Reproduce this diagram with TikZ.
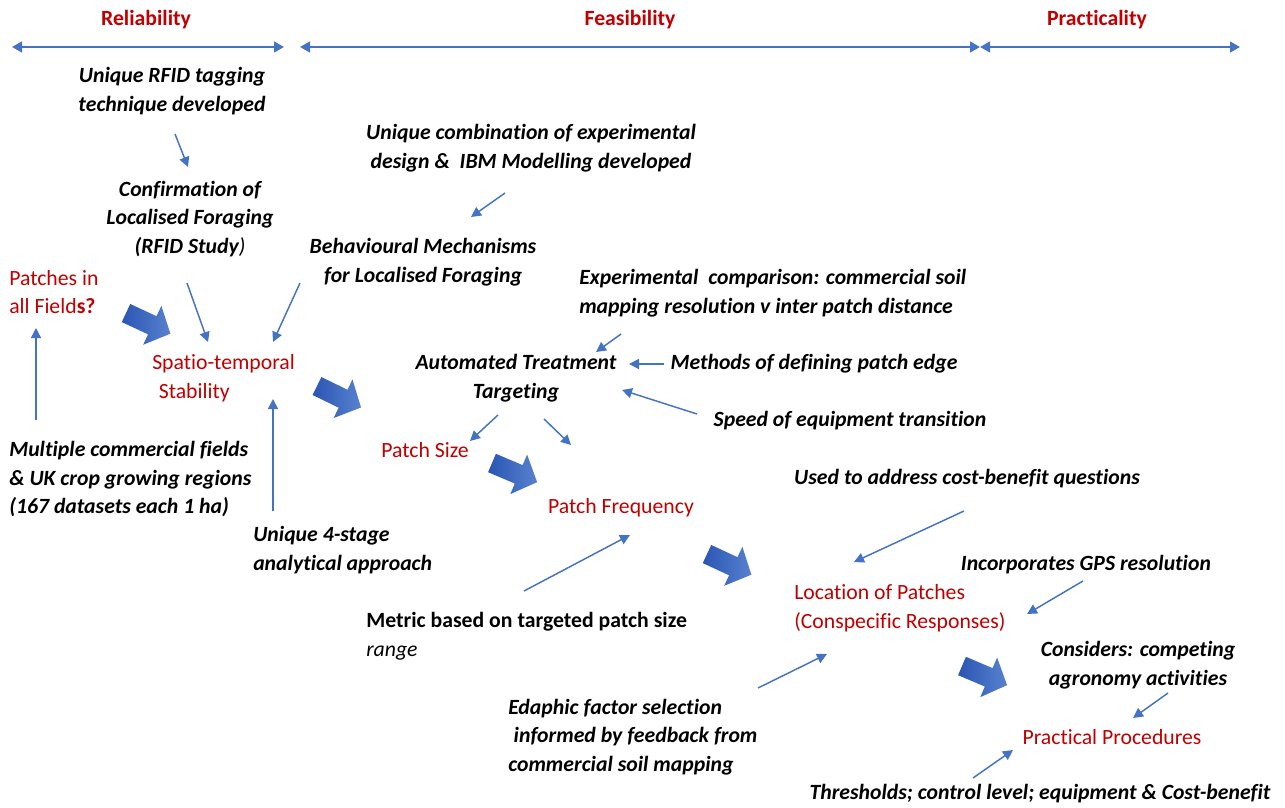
\documentclass[tikz,border=0pt]{standalone}
\usepackage{fontspec}
\setmainfont{Carlito}[Ligatures=NoCommon]
\usetikzlibrary{arrows.meta}

\definecolor{redtext}{HTML}{C00000}
\definecolor{linkblue}{HTML}{4472C4}
\definecolor{flowdark}{HTML}{2A55B4}
\definecolor{flowlight}{HTML}{5882CE}

\tikzset{
  every node/.style={inner sep=0pt, align=center, font=\fontsize{16.3}{21.5}\selectfont},
  head/.style={text=redtext, font=\fontsize{16.3}{21.5}\selectfont\bfseries},
  note/.style={font=\fontsize{16.3}{21.5}\selectfont\bfseries\itshape},
  stage/.style={text=redtext},
  link/.style={draw=linkblue, line width=1.1pt, -{Triangle[length=7.5pt,width=7.5pt]}},
  span/.style={draw=linkblue, line width=1.6pt,
    {Triangle[length=7.5pt,width=8pt]}-{Triangle[length=7.5pt,width=8pt]}},
  flow/.pic={
    \shade[left color=flowdark, right color=flowlight]
      (0,10) -- (29,10) -- (29,21.5) -- (49,0) -- (29,-21.5) -- (29,-10) -- (0,-10) -- cycle;
  }
}

\begin{document}
\begin{tikzpicture}[x=0.75pt, y=-0.75pt]
  \useasboundingbox (0,0) rectangle (1285,807);

  % headings and their spans
  \node[head] (reliability) at (146,20) {Reliability};
  \node[head] (feasibility) at (630,20) {Feasibility};
  \node[head] (practicality) at (1097,20) {Practicality};
  \coordinate (relL) at (12,47);
  \coordinate (relR) at (284,47);
  \coordinate (feaL) at (300,47);
  \coordinate (feaR) at (980,47);
  \coordinate (praL) at (980,47);
  \coordinate (praR) at (1240,47);
  \draw[span] (relL) -- (relR);
  \draw[span] (feaL) -- (feaR);
  \draw[span] (praL) -- (praR);

  % stages
  \node[stage, anchor=west, align=left] (fields) at (9,292) {Patches in\\all Field\textbf{s?}};
  \node[stage, anchor=west, align=left] (stability) at (152,378) {Spatio-temporal\\\hspace*{0.3em}Stability};
  \node[stage] (size) at (425,450) {Patch Size};
  \node[stage] (frequency) at (621,508) {Patch Frequency};
  \node[stage, anchor=west, align=left] (location) at (794,608) {Location of Patches\\(Conspecific Responses)};
  \node[stage] (procedures) at (1112,737) {Practical Procedures};

  % notes
  \node[note] (rfid) at (172,91) {Unique RFID tagging\\technique developed};
  \node[note] (confirm) at (190,219) {Confirmation of\\Localised Foraging\\(RFID Study{\mdseries )}};
  \node[note] (combo) at (531,148) {Unique combination of experimental\\design \&\ \ IBM Modelling developed};
  \node[note] (mechanism) at (423,262) {Behavioural Mechanisms\\for Localised Foraging};
  \node[note, anchor=west, align=left] (compare) at (579,293) {Experimental\ \ comparison: commercial soil\\mapping resolution v inter patch distance};
  \node[note] (targeting) at (516,378) {Automated Treatment\\Targeting};
  \node[note] (edge) at (814,364) {Methods of defining patch edge};
  \node[note] (speed) at (850,421) {Speed of equipment transition};
  \node[note] (costq) at (967,479) {Used to address cost-benefit questions};
  \node[note] (gps) at (1086,565) {Incorporates GPS resolution};
  \node[note] (competing) at (1138,665) {Considers: competing\\agronomy activities};
  \node[note] (thresholds) at (1040,794) {Thresholds; control level; equipment \& Cost-benefit};
  \node[note, anchor=west, align=left] (edaphic) at (508,737) {Edaphic factor selection\\\hspace*{0.25em}informed by feedback from\\commercial soil mapping};
  \node[anchor=west, align=left] (metric) at (366,636) {\textbf{Metric based on targeted patch size}\\\textit{range}};
  \node[note, anchor=west, align=left] (datasets) at (9,479) {Multiple commercial fields\\\& UK crop growing regions\\(167 datasets each 1 ha)};
  \node[note, anchor=west, align=left] (fourstage) at (253,550) {Unique 4-stage\\analytical approach};

  % flow between stages
  \pic[rotate=-25] (flowA) at (126,313) {flow};
  \pic[rotate=-26] (flowB) at (317,386) {flow};
  \pic[rotate=-23] (flowC) at (492,463) {flow};
  \pic[rotate=-25] (flowD) at (707,554) {flow};
  \pic[rotate=-23] (flowE) at (962,666) {flow};

  % ends of the thin links
  \coordinate (rfid-out) at (175,134);
  \coordinate (confirm-in) at (188,167);
  \coordinate (confirm-out) at (187,283);
  \coordinate (stab-in1) at (208,342);
  \coordinate (mech-out) at (300,283);
  \coordinate (stab-in2) at (273,342);
  \coordinate (combo-out) at (505,193);
  \coordinate (mech-in) at (471,217);
  \coordinate (data-out) at (36,420);
  \coordinate (fields-in) at (36,328);
  \coordinate (four-out) at (273,511);
  \coordinate (stab-in3) at (273,399);
  \coordinate (comp-out) at (621,334);
  \coordinate (targ-in1) at (596,352);
  \coordinate (edge-out) at (664,364);
  \coordinate (targ-in2) at (629,364);
  \coordinate (speed-out) at (697,414);
  \coordinate (targ-in3) at (622,390);
  \coordinate (targ-out1) at (498,415);
  \coordinate (size-in) at (470,441);
  \coordinate (targ-out2) at (544,419);
  \coordinate (freq-in1) at (571,445);
  \coordinate (metric-out) at (524,591);
  \coordinate (freq-in2) at (630,535);
  \coordinate (costq-out) at (964,511);
  \coordinate (loc-in1) at (854,562);
  \coordinate (gps-out) at (1083,581);
  \coordinate (loc-in2) at (1027,614);
  \coordinate (edaph-out) at (758,688);
  \coordinate (loc-in3) at (827,654);
  \coordinate (comp2-out) at (1168,693);
  \coordinate (proc-in1) at (1133,718);
  \coordinate (thr-out) at (973,778);
  \coordinate (proc-in2) at (1013,750);

  \draw[link] (rfid-out) -- (confirm-in);
  \draw[link] (confirm-out) -- (stab-in1);
  \draw[link] (mech-out) -- (stab-in2);
  \draw[link] (combo-out) -- (mech-in);
  \draw[link] (data-out) -- (fields-in);
  \draw[link] (four-out) -- (stab-in3);
  \draw[link] (comp-out) -- (targ-in1);
  \draw[link] (edge-out) -- (targ-in2);
  \draw[link] (speed-out) -- (targ-in3);
  \draw[link] (targ-out1) -- (size-in);
  \draw[link] (targ-out2) -- (freq-in1);
  \draw[link] (metric-out) -- (freq-in2);
  \draw[link] (costq-out) -- (loc-in1);
  \draw[link] (gps-out) -- (loc-in2);
  \draw[link] (edaph-out) -- (loc-in3);
  \draw[link] (comp2-out) -- (proc-in1);
  \draw[link] (thr-out) -- (proc-in2);
\end{tikzpicture}
\end{document}
